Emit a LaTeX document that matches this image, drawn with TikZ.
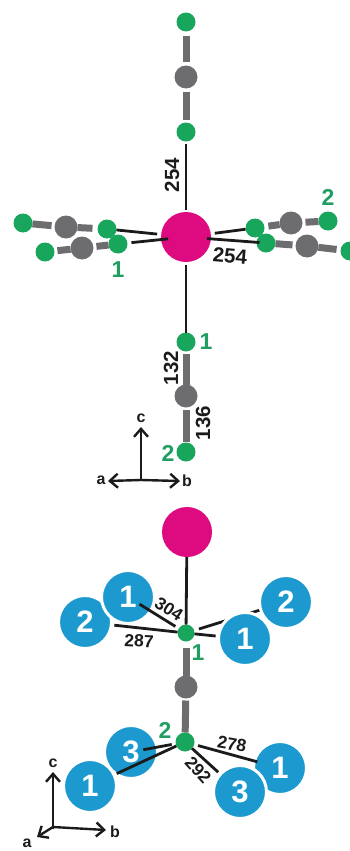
\documentclass[tikz,border=0pt]{standalone}
\usepackage{fontspec}
\setmainfont{Liberation Sans}
\usetikzlibrary{arrows.meta,backgrounds}
\definecolor{atomgreen}{HTML}{18A55C}
\definecolor{labgreen}{HTML}{209E62}
\definecolor{atomgray}{HTML}{6D6D70}
\definecolor{atompink}{HTML}{DD0A80}
\definecolor{atomblue}{HTML}{1C9AD0}
\definecolor{ink}{HTML}{1B1B1B}
\tikzset{
  atom/.style={circle,inner sep=0pt,outer sep=0pt},
  greenatom/.style={atom,fill=atomgreen,minimum size=19pt},
  grayatom/.style={atom,fill=atomgray,minimum size=23pt},
  pinkatom/.style={atom,fill=atompink,minimum size=50pt},
  blueatom/.style={atom,fill=atomblue,draw=white,line width=3pt,minimum size=53pt,text=white,font=\fontsize{31}{31}\selectfont\bfseries},
  bar/.style={line width=7pt,draw=atomgray},
  bond/.style={line width=2.8pt,draw=ink},
  axis/.style={line width=2.4pt,draw=ink,-{Straight Barb[length=8pt,width=14pt,line width=2.4pt]}},
  greenlab/.style={text=labgreen,inner sep=0pt,font=\fontsize{23}{23}\selectfont\bfseries},
  biglab/.style={text=ink,inner sep=0pt,font=\fontsize{20.5}{20.5}\selectfont\bfseries},
  smalllab/.style={text=ink,inner sep=0pt,font=\fontsize{17.5}{17.5}\selectfont\bfseries},
  axlab/.style={text=ink,inner sep=0pt,font=\fontsize{16}{16}\selectfont\bfseries}
}
\begin{document}
\begin{tikzpicture}[x=1pt,y=-1pt]
\useasboundingbox (0,0) rectangle (350,851);
% ---------- upper structure ----------
\node[pinkatom] (M) at (186,237) {};
\node[greenatom] (t3) at (186,22) {};
\node[grayatom]  (t2) at (186,77) {};
\node[greenatom] (t1) at (186,132) {};
\node[greenatom] (lu3) at (23,223) {};
\node[grayatom]  (lu2) at (66,227) {};
\node[greenatom] (lu1) at (107,229) {};
\node[greenatom] (ll3) at (45,252) {};
\node[grayatom]  (ll2) at (82,248) {};
\node[greenatom] (ll1) at (118,244) {};
\node[greenatom] (ru1) at (255,228) {};
\node[grayatom]  (ru2) at (291,223) {};
\node[greenatom] (ru3) at (328,221) {};
\node[greenatom] (rl1) at (266,243) {};
\node[grayatom]  (rl2) at (307,246) {};
\node[greenatom] (rl3) at (350,251) {};
\node[greenatom] (d1) at (186,342) {};
\node[grayatom]  (d2) at (186,396) {};
\node[greenatom] (d3) at (186,452) {};
\begin{scope}[on background layer]
  \draw[bar,shorten <=5pt,shorten >=3pt] (t3) -- (t2);
  \draw[bar,shorten <=3pt,shorten >=3pt] (t2) -- (t1);
  \draw[bar,shorten >=3pt] (lu3) -- (lu2);
  \draw[bar,shorten >=5pt] (lu2) -- (lu1);
  \draw[bar,shorten <=3pt] (ll3) -- (ll2);
  \draw[bar,shorten <=3pt] (ll2) -- (ll1);
  \draw[bar,shorten <=4pt] (ru1) -- (ru2);
  \draw[bar,shorten <=3pt] (ru2) -- (ru3);
  \draw[bar,shorten >=3pt] (rl1) -- (rl2);
  \draw[bar,shorten >=4pt] (rl2) -- (rl3);
  \draw[bar,shorten <=2pt] (d1) -- (d2);
  \draw[bar,shorten <=2pt,shorten >=1pt] (d2) -- (d3);
\end{scope}
\draw[bond,shorten <=2pt,shorten >=2pt] (t1) -- (M);
\draw[bond,shorten <=3pt,shorten >=0pt] (M) -- (d1);
\draw[bond,shorten <=0pt,shorten >=4pt] (lu1) -- (M);
\draw[bond,shorten <=4pt,shorten >=-7pt] (ll1) -- (M);
\draw[bond,shorten <=4pt,shorten >=0pt] (M) -- (ru1);
\draw[bond,shorten <=-4pt,shorten >=-3pt] (M) -- (rl1);
\node[biglab,rotate=90] (l254a) at (172,175) {254};
\node[biglab,rotate=-5] (l254b) at (230,256) {254};
\node[biglab,rotate=90] (l132) at (171,368) {132};
\node[biglab,rotate=90] (l136) at (203,423) {136};
\node[greenlab] (gl1) at (118,270) {1};
\node[greenlab] (gl2) at (328,197) {2};
\node[greenlab] (gl3) at (206,342) {1};
\node[greenlab] (gl4) at (168,453) {2};
% axes 1
\coordinate (o1) at (141,479);
\coordinate (c1) at (141,427);
\coordinate (a1) at (108,481);
\coordinate (b1) at (180,481);
\coordinate (m1) at (141,480);
\draw[axis] (o1) -- (c1);
\draw[axis] (m1) -- (a1);
\draw[axis] (m1) -- (b1);
\node[axlab] (c1l) at (141,418) {c};
\node[axlab] (a1l) at (101,480) {a};
\node[axlab] (b1l) at (187,481) {b};
% ---------- lower structure ----------
\node[pinkatom] (P) at (187,532) {};
\node[atom,fill=atomgreen,minimum size=17pt] (g1) at (186,633) {};
\node[grayatom] (g0) at (186,687) {};
\node[greenatom] (g2) at (185,742) {};
\node[blueatom] (bl2) at (85,622) {2};
\node[blueatom] (bl1) at (128,597) {1};
\node[blueatom] (br2) at (286,602) {2};
\node[blueatom] (br1) at (245,639) {1};
\node[blueatom] (cl3) at (131,752) {3};
\node[blueatom] (cl1) at (90,786) {1};
\node[blueatom] (cr1) at (280,768) {1};
\node[blueatom] (cr3) at (240,792) {3};
\begin{scope}[on background layer]
  \draw[bar,shorten <=6pt] (g1) -- (g0);
  \draw[bar,shorten <=2pt] (g0) -- (g2);
  \draw[bond,shorten <=5pt] (g1) -- (br2);
\end{scope}
\draw[bond] (P) -- (g1);
\draw[bond,shorten <=4pt,shorten >=-13pt] (g1) -- (bl1);
\draw[bond,shorten >=3pt] (g1) -- (bl2);
\draw[bond,shorten >=3pt] (g1) -- (br1);
\draw[bond,shorten <=4pt,shorten >=-14pt] (g2) -- (cl3);
\draw[bond,shorten >=3pt] (g2) -- (cl1);
\draw[bond,shorten <=4pt,shorten >=-3pt] (g2) -- (cr1);
\draw[bond,shorten >=3pt] (g2) -- (cr3);
\node[smalllab,rotate=-33] (l304) at (169,609) {304};
\node[smalllab,rotate=-3] (l287) at (139,641) {287};
\node[smalllab,rotate=-10] (l278) at (232,744) {278};
\node[smalllab,rotate=-48] (l292) at (198,770) {292};
\node[greenlab] (gl5) at (198,653) {1};
\node[greenlab] (gl6) at (165,730) {2};
% axes 2
\coordinate (o2) at (53,829);
\coordinate (c2) at (53,772);
\coordinate (a2) at (37,837);
\coordinate (b2) at (106,830);
\coordinate (m2) at (53,827);
\draw[axis] (o2) -- (c2);
\draw[axis] (m2) -- (a2);
\draw[axis] (m2) -- (b2);
\node[axlab] (c2l) at (53,763) {c};
\node[axlab] (a2l) at (27,843) {a};
\node[axlab] (b2l) at (115,832) {b};
\end{tikzpicture}
\end{document}
